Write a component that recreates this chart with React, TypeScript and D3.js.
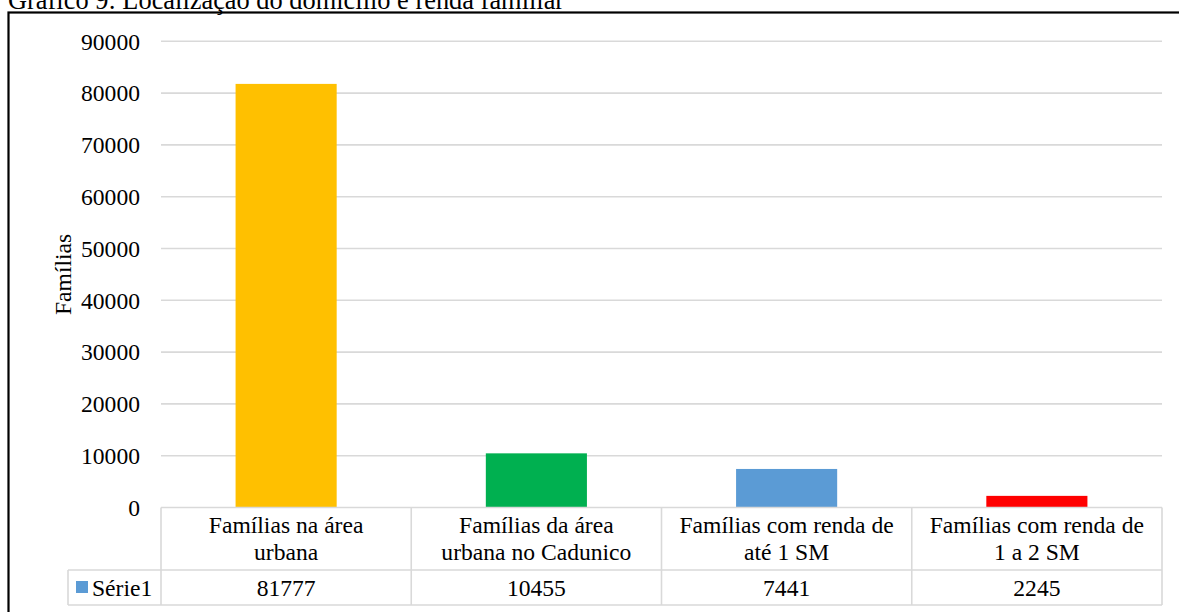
import React from "react";
import * as d3 from "d3";

// Chart data
const categories: string[][] = [
  ["Famílias na área", "urbana"],
  ["Famílias da área", "urbana no Cadunico"],
  ["Famílias com renda de", "até 1 SM"],
  ["Famílias com renda de", "1 a 2 SM"],
];
const values: number[] = [81777, 10455, 7441, 2245];
const barColors: string[] = ["#FFC000", "#00B050", "#5B9BD5", "#FF0000"];
const yTicks: number[] = [0, 10000, 20000, 30000, 40000, 50000, 60000, 70000, 80000, 90000];
const seriesName = "Série1";
const seriesColor = "#5B9BD5";
const title = "Gráfico 9: Localização do domicílio e renda familiar";
const yTitle = "Famílias";

const W = 1179;
const H = 612;
const FONT = "'Liberation Serif', 'Times New Roman', serif";
const FS = 23.6;

export default function App() {
  const plotLeft = 161;
  const plotRight = 1162;
  const plotTop = 41.3;
  const plotBottom = 507.5;
  const headerBottom = 570;
  const tableBottom = 605;
  const legendLeft = 68;

  const y = d3.scaleLinear().domain([0, 90000]).range([plotBottom, plotTop]);
  const keys = categories.map((_, i) => String(i));
  const x = d3
    .scaleBand<string>()
    .domain(keys)
    .range([plotLeft, plotRight])
    .paddingInner(0.596)
    .paddingOuter(0.298);
  const step = x.step();
  const colLeft = (i: number) => plotLeft + i * step;

  const grid = "#d9d9d9";

  return (
    <svg
      width={W}
      height={H}
      style={{ position: "absolute", left: 0, top: 0, background: "#fff" }}
      fontFamily={FONT}
    >
      <rect x={0} y={0} width={W} height={H} fill="#fff" />
      {/* title, partially above the frame */}
      <text x={8} y={9} fontSize={26.4} fill="#000">
        {title}
      </text>
      {/* frame */}
      <rect x={8.5} y={12.5} width={1190} height={620} fill="none" stroke="#000" strokeWidth={2.2} />

      {/* gridlines */}
      {yTicks.map((t) =>
        t === 0 ? null : (
          <line key={t} x1={plotLeft} x2={plotRight} y1={y(t)} y2={y(t)} stroke={grid} strokeWidth={1.6} />
        )
      )}
      {/* tick labels */}
      {yTicks.map((t) => (
        <text key={"l" + t} x={140} y={y(t)} dy="0.35em" textAnchor="end" fontSize={FS} fill="#000">
          {t}
        </text>
      ))}
      {/* axis title */}
      <text
        transform={`translate(71,${(plotTop + plotBottom) / 2}) rotate(-90)`}
        textAnchor="middle"
        fontSize={FS}
        fill="#000"
      >
        {yTitle}
      </text>

      {/* bars */}
      {values.map((v, i) => (
        <rect
          key={"b" + i}
          x={x(keys[i])}
          y={y(v)}
          width={x.bandwidth()}
          height={y(0) - y(v)}
          fill={barColors[i]}
        />
      ))}

      {/* data table */}
      <g stroke={grid} strokeWidth={1.6} fill="none">
        <line x1={plotLeft} x2={plotRight} y1={plotBottom} y2={plotBottom} />
        <line x1={legendLeft} x2={plotRight} y1={headerBottom} y2={headerBottom} />
        <line x1={legendLeft} x2={plotRight} y1={tableBottom} y2={tableBottom} />
        <line x1={legendLeft} x2={legendLeft} y1={headerBottom} y2={tableBottom} />
        {d3.range(categories.length + 1).map((i) => (
          <line key={"v" + i} x1={colLeft(i)} x2={colLeft(i)} y1={plotBottom} y2={tableBottom} />
        ))}
      </g>
      {categories.map((lines, i) => (
        <text key={"c" + i} textAnchor="middle" fontSize={FS} fill="#000">
          <tspan x={colLeft(i) + step / 2} y={533}>
            {lines[0]}
          </tspan>
          <tspan x={colLeft(i) + step / 2} y={560}>
            {lines[1]}
          </tspan>
        </text>
      ))}
      {values.map((v, i) => (
        <text key={"t" + i} x={colLeft(i) + step / 2} y={596} textAnchor="middle" fontSize={FS} fill="#000">
          {v}
        </text>
      ))}
      <rect x={76} y={581} width={12} height={12} fill={seriesColor} />
      <text x={92} y={596} fontSize={FS} fill="#000">
        {seriesName}
      </text>
    </svg>
  );
}
